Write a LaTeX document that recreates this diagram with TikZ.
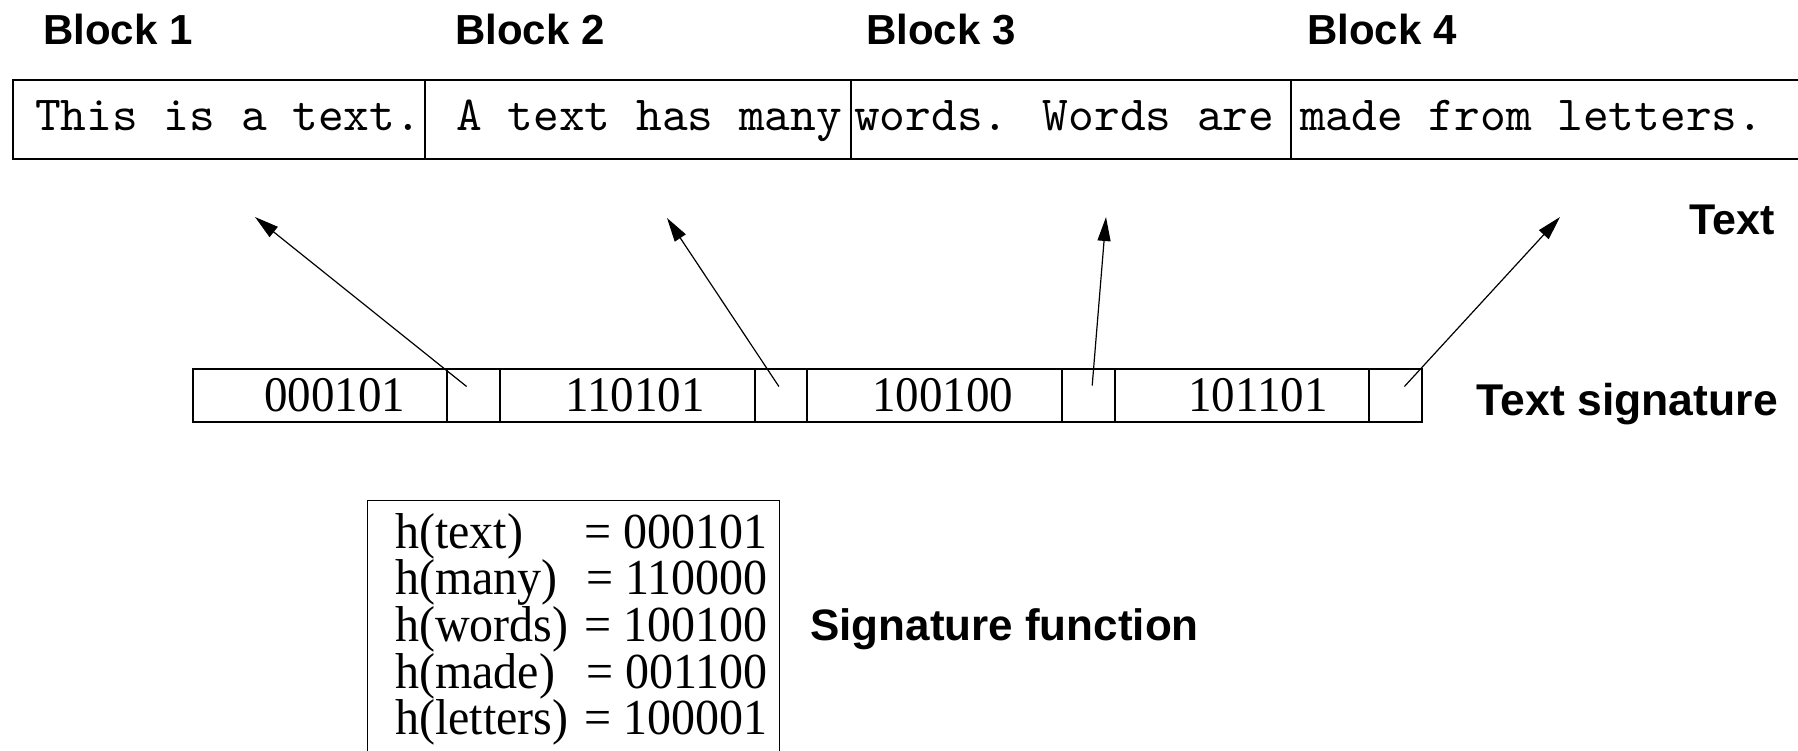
\documentclass[tikz,border=0pt]{standalone}
\usepackage{fontspec}
\setmainfont{Liberation Serif}
\setsansfont{Liberation Sans}
\newfontfamily\codefont{lmmono10-regular.otf}
\usetikzlibrary{arrows.meta,calc}

\begin{document}
\begin{tikzpicture}[x=1pt,y=-1pt,
  heading/.style={font=\sffamily\bfseries\fontsize{42}{42}\selectfont, inner sep=0pt},
  codetext/.style={font=\codefont\fontsize{49}{49}\selectfont, inner sep=0pt, anchor=base west},
  textcell/.style={draw, line width=2pt, minimum height=79pt, inner sep=0pt, anchor=north west},
  bigcell/.style={draw, line width=2pt, minimum width=254.6pt, minimum height=53pt, inner sep=0pt},
  smallcell/.style={draw, line width=2pt, minimum width=52.8pt, minimum height=53pt, inner sep=0pt},
  bits/.style={font=\fontsize{47}{47}\selectfont, inner sep=0pt},
  hashline/.style={font=\fontsize{48}{48}\selectfont, inner sep=0pt},
  arr/.style={line width=1.2pt, -{Triangle[length=24pt,width=13pt]}}
]
\useasboundingbox (0,0) rectangle (1798,751);

% block headings
\node[heading, anchor=base west] (b1) at (43,45) {Block 1};
\node[heading, anchor=base west] (b2) at (455,45) {Block 2};
\node[heading, anchor=base west] (b3) at (866,45) {Block 3};
\node[heading, anchor=base west] (b4) at (1307,45) {Block 4};

% the text, split into four blocks
\node[textcell, minimum width=411.8pt] (t1) at (11.7,79) {};
\node[textcell, minimum width=426.1pt] (t2) at (423.5,79) {};
\node[textcell, minimum width=440.4pt] (t3) at (849.6,79) {};
\node[textcell, minimum width=530pt]   (t4) at (1290,79) {};
\node[codetext] (w1) at (35,131) {This is a text.};
\node[codetext] (w2) at (456,131) {A text has many};
\node[codetext] (w3) at (854,131) {words. Words are};
\node[codetext] (w4) at (1300,131) {made from letters.};

\node[heading, font=\sffamily\bfseries\fontsize{43}{43}\selectfont, anchor=base east] (ltext) at (1775,235) {Text};

% the signature: one code and one pointer cell per block
\node[bigcell]   (s1) at (319.9,395.5) {};
\node[smallcell] (k1) at (473.6,395.5) {};
\node[bigcell]   (s2) at (627.3,395.5) {};
\node[smallcell] (k2) at (780.9,395.5) {};
\node[bigcell]   (s3) at (934.6,395.5) {};
\node[smallcell] (k3) at (1088.2,395.5) {};
\node[bigcell]   (s4) at (1241.9,395.5) {};
\node[smallcell] (k4) at (1395.4,395.5) {};
\node[bits] (d1) at ($(s1.center)+(15,0)$) {\scalebox{1}[1.06]{000101}};
\node[bits] (d2) at ($(s2.center)+(8,0)$) {\scalebox{1}[1.06]{110101}};
\node[bits] (d3) at ($(s3.center)+(8,0)$) {\scalebox{1}[1.06]{100100}};
\node[bits] (d4) at ($(s4.center)+(16,0)$) {\scalebox{1}[1.06]{101101}};

\node[heading, font=\sffamily\bfseries\fontsize{44.5}{44.5}\selectfont, anchor=base east] (lsig) at (1778,415) {Text signature};

% pointers from the signature back to the blocks
\coordinate (p1) at ($(k1.center)+(-7,-9)$);
\coordinate (p2) at ($(k2.center)+(-2,-9)$);
\coordinate (p3) at ($(k3.center)+(4,-10)$);
\coordinate (p4) at ($(k4.center)+(9,-9)$);
\coordinate (q1) at (255,217);
\coordinate (q2) at (667,218);
\coordinate (q3) at (1106,217);
\coordinate (q4) at (1560,217);
\draw[arr] (p1) -- (q1);
\draw[arr] (p2) -- (q2);
\draw[arr] (p3) -- (q3);
\draw[arr] (p4) -- (q4);

% the signature function
\node[draw, line width=1.3pt, minimum width=412pt, minimum height=300pt,
      inner sep=0pt, anchor=north west] (fbox) at (367,500) {};
\foreach \w/\v [count=\i] in {text/000101, many/110000, words/100100, made/001100, letters/100001} {
  \node[hashline, anchor=base west] (hl\i) at (395,{548+46.7*(\i-1)}) {\scalebox{1}[1.05]{h(\w)}};
  \node[hashline, anchor=base east] (hr\i) at (768,{548+46.7*(\i-1)}) {\scalebox{1}[1.05]{= \v}};
}

\node[heading, font=\sffamily\bfseries\fontsize{44}{44}\selectfont, anchor=base west] (lfun) at (810,640) {Signature function};
\end{tikzpicture}
\end{document}
